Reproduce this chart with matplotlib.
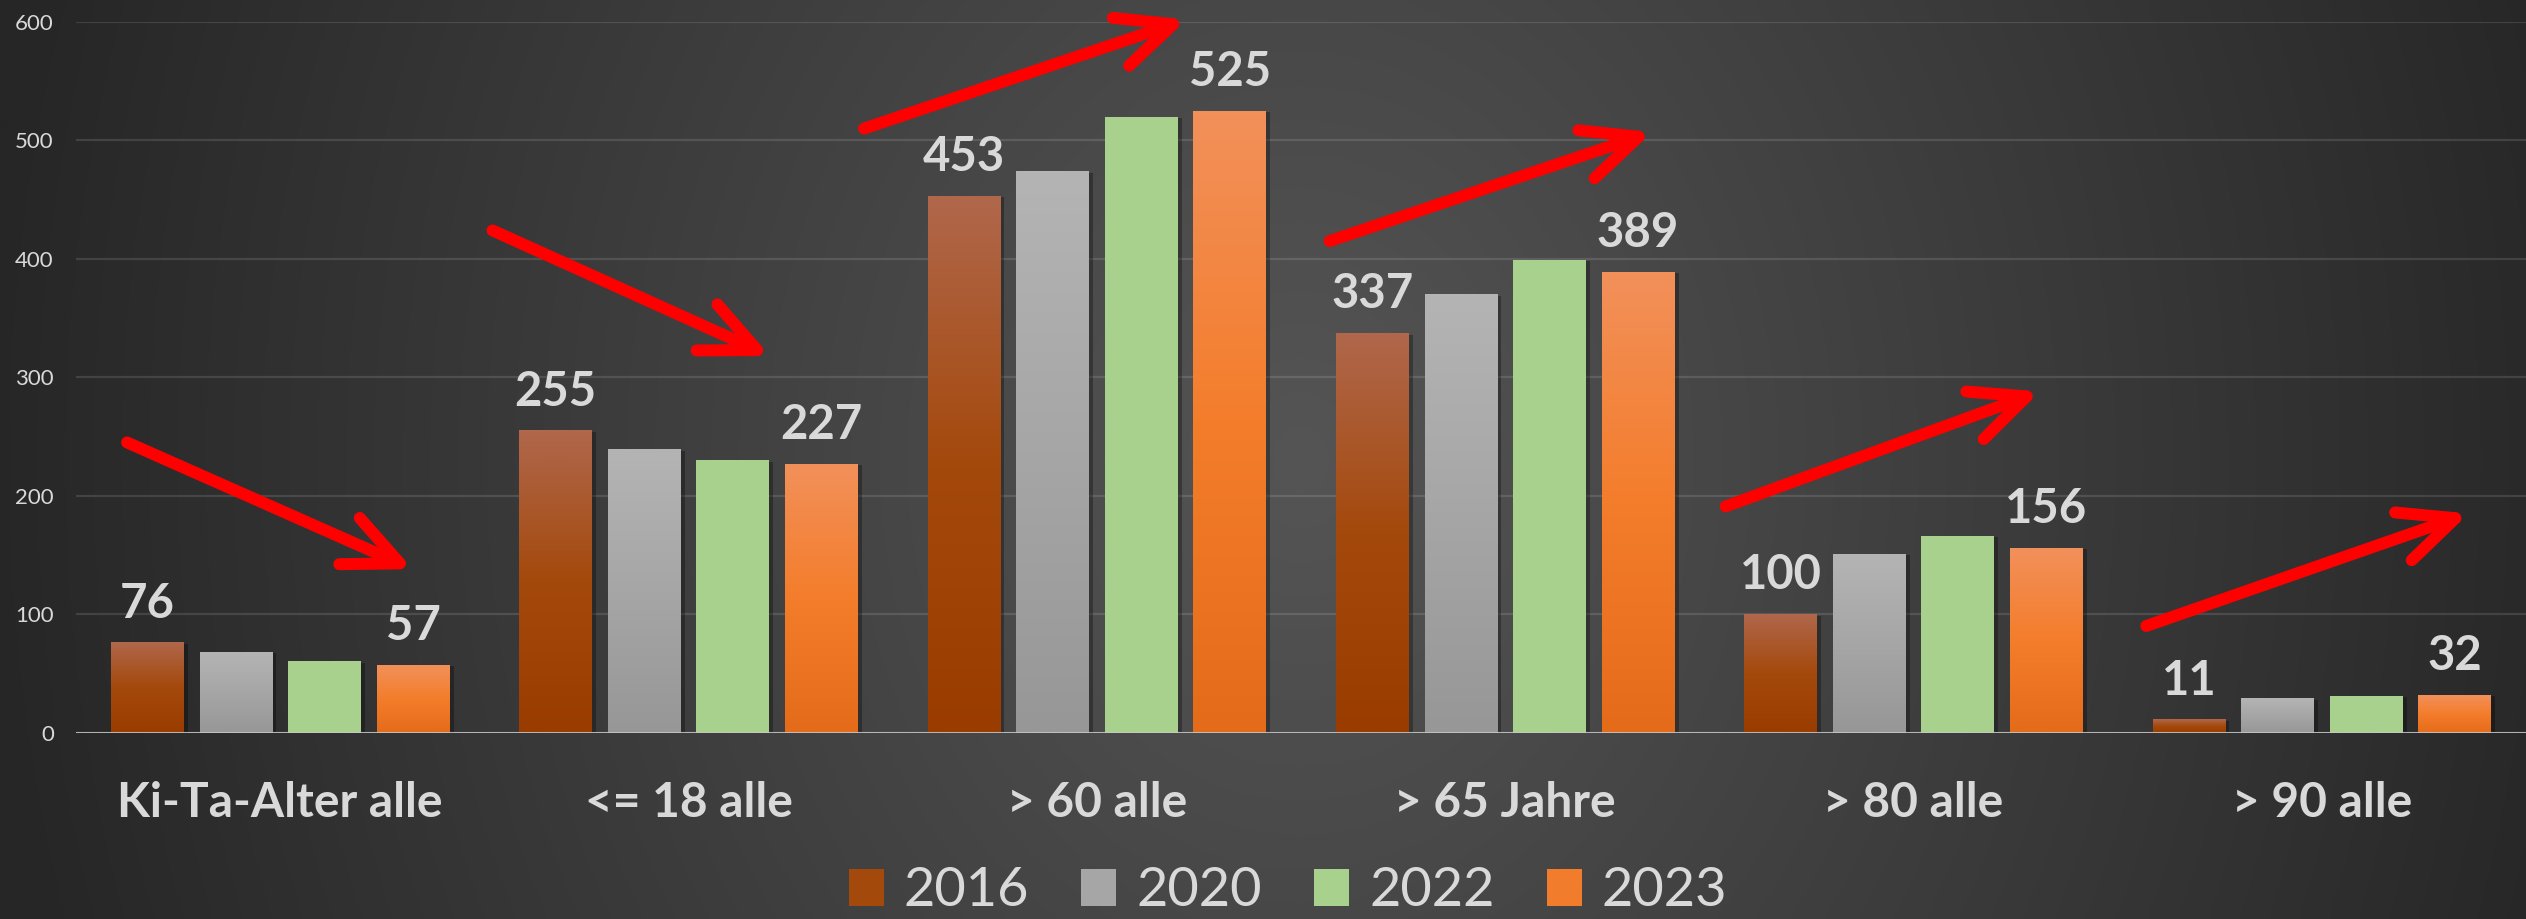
import numpy as np
import matplotlib.pyplot as plt
from matplotlib.patches import Patch
from matplotlib import patheffects as pe
from matplotlib.colors import to_rgb

categories = ['Ki-Ta-Alter alle', '<= 18 alle', '> 60 alle', '> 65 Jahre', '> 80 alle', '> 90 alle']
years = ['2016', '2020', '2022', '2023']
v2016 = [76, 255, 453, 337, 100, 11]
v2020 = [68, 239, 474, 370, 151, 29]
v2022 = [60, 230, 520, 399, 166, 31]
v2023 = [57, 227, 525, 389, 156, 32]
yticks = [0, 100, 200, 300, 400, 500, 600]

# hand drawn trend arrows, start/end value per group
arrow_from = [245, 424, 510, 415, 191, 90]
arrow_to = [138, 318, 602, 507, 288, 185]
arrow_dx = [(-0.375, 0.325), (-0.48, 0.20), (-0.57, 0.22), (-0.43, 0.36), (-0.46, 0.31), (-0.43, 0.36)]

series = [v2016, v2020, v2022, v2023]
# top / middle / bottom colour of each bar gradient
grads = [('#b0674b', '#a4490c', '#9a3c00'),
         ('#b4b4b4', '#a6a6a6', '#979797'),
         ('#a9d18e', '#a9d18e', '#a9d18e'),
         ('#f2905a', '#f47d2b', '#e46b1a')]
legend_cols = ['#a4490c', '#a6a6a6', '#a9d18e', '#f07c2c']
txt = '#d9d9d9'
font = 'Lato'

fig = plt.figure(figsize=(25.26, 9.19), dpi=100)

# dark radial background
bg = fig.add_axes([0, 0, 1, 1], zorder=-10)
yy, xx = np.mgrid[0:460, 0:1263]
d = np.sqrt(((xx - 650) / 660.0) ** 2 + ((yy - 230) / 800.0) ** 2)
f = np.clip(d, 0, 1)
c0, c1 = 0x55 / 255, 0x26 / 255
img = c0 + (c1 - c0) * f
bg.imshow(np.dstack([img, img, img]), aspect='auto', interpolation='bilinear')
bg.axis('off')

ax = fig.add_axes([76 / 2526, 1 - 732.6 / 919, 1 - 76 / 2526, (732.6 - 22) / 919])
ax.set_facecolor('none')

x = np.arange(len(categories))
pitch = 0.217
width = 0.178

def grad_col(g, n=100):
    top, mid, bot = [np.array(to_rgb(c)) for c in g]
    t = np.linspace(0, 1, n)[:, None]
    a = np.where(t < 0.5, top + (mid - top) * (t / 0.5), mid + (bot - mid) * ((t - 0.5) / 0.5))
    return a[:, None, :]

for k, vals in enumerate(series):
    bars = ax.bar(x + (k - 1.5) * pitch, vals, width, color=grads[k][1], zorder=3,
                  path_effects=[pe.SimplePatchShadow(offset=(3, -1), shadow_rgbFace='black', alpha=0.3), pe.Normal()])
    arr = grad_col(grads[k])
    for r in bars:
        x0, w, h = r.get_x(), r.get_width(), r.get_height()
        ax.imshow(arr, extent=[x0, x0 + w, 0, h], aspect='auto', zorder=4, interpolation='bilinear')
    if k in (0, 3):
        for r, v in zip(bars, vals):
            ax.annotate(str(v), (r.get_x() + r.get_width() / 2, v), xytext=(0, 18),
                        textcoords='offset points', ha='center', va='baseline',
                        fontsize=34, fontweight='bold', color=txt, family=font, zorder=6)

for i in range(len(categories)):
    ax.annotate('', xy=(i + arrow_dx[i][1], arrow_to[i]), xytext=(i + arrow_dx[i][0], arrow_from[i]),
                arrowprops=dict(arrowstyle='->,head_length=1.98,head_width=0.91', mutation_scale=20,
                                color='#ff0000', lw=8.6, shrinkA=0, shrinkB=0, capstyle='round'),
                annotation_clip=False, zorder=7)

ax.set_xlim(-0.5, len(categories) - 0.5)
ax.set_ylim(0, 600)
ax.set_yticks(yticks)
ax.set_xticks(x)
ax.set_xticklabels(categories)
for s in ax.spines.values():
    s.set_visible(False)
ax.axhline(0, color='#c8c8c8', lw=2.2, alpha=0.85, zorder=5)
ax.grid(axis='y', color='white', alpha=0.12, lw=1.6, zorder=0)
ax.set_axisbelow(True)
ax.tick_params(axis='both', length=0)
ax.tick_params(axis='x', pad=35)
ax.tick_params(axis='y', pad=16)
for lab in ax.get_xticklabels():
    lab.set_fontsize(34.5)
    lab.set_fontweight('bold')
    lab.set_color(txt)
    lab.set_family(font)
for lab in ax.get_yticklabels():
    lab.set_fontsize(16)
    lab.set_color(txt)
    lab.set_family(font)

handles = [Patch(facecolor=c, edgecolor='none') for c in legend_cols]
leg = fig.legend(handles, years, loc='center', bbox_to_anchor=(1288 / 2526, 28 / 919), ncol=4,
                 frameon=False, prop={'family': font, 'size': 39}, labelcolor=txt,
                 handlelength=0.65, handleheight=0.67, handletextpad=0.37, columnspacing=0.96,
                 borderaxespad=0, borderpad=0)

fig.savefig('out.png', dpi=100)
